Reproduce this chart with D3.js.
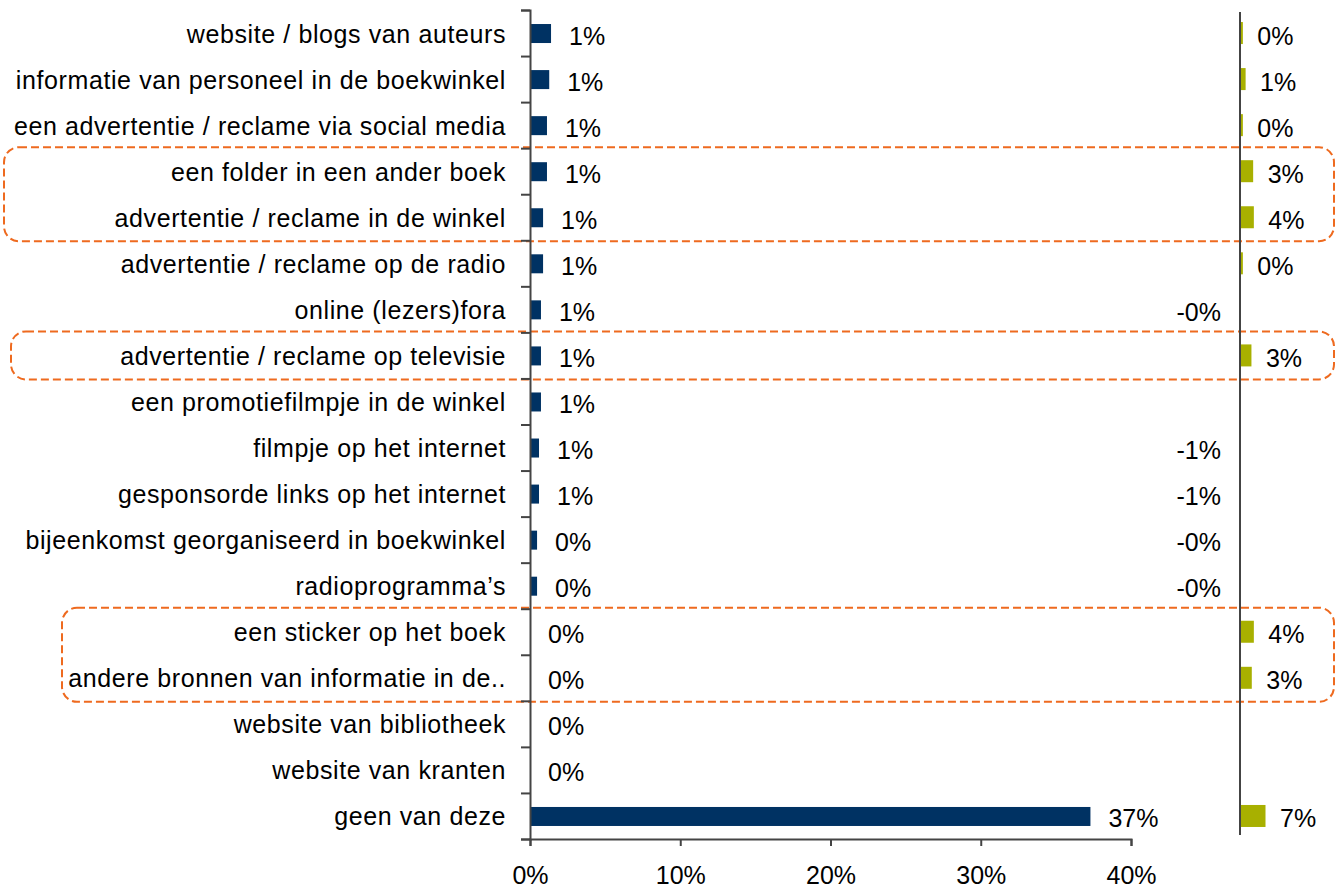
<!DOCTYPE html>
<html>
<head>
<meta charset="utf-8">
<script src="https://cdn.jsdelivr.net/npm/d3@7"></script>
<style>
  body { margin: 0; background: #fff; }
  text { font-family: "Liberation Sans", Arial, sans-serif; fill: #000; }
</style>
</head>
<body>
<script>
var w = 1336;
var h = 888;

// categories top to bottom
var categories = [
  "website / blogs van auteurs",
  "informatie van personeel in de boekwinkel",
  "een advertentie / reclame via social media",
  "een folder in een ander boek",
  "advertentie / reclame in de winkel",
  "advertentie / reclame op de radio",
  "online (lezers)fora",
  "advertentie / reclame op televisie",
  "een promotiefilmpje in de winkel",
  "filmpje op het internet",
  "gesponsorde links op het internet",
  "bijeenkomst georganiseerd in boekwinkel",
  "radioprogramma\u2019s",
  "een sticker op het boek",
  "andere bronnen van informatie in de..",
  "website van bibliotheek",
  "website van kranten",
  "geen van deze"
];

// blue series (percent)
var blueValues = [1.4, 1.28, 1.13, 1.13, 0.87, 0.87, 0.73, 0.73, 0.73, 0.6, 0.6, 0.47, 0.47, 0, 0, 0, 0, 37.3];

// green series (percent), null = no value
var greenValues = [0.4, 1.2, 0.4, 3.4, 3.6, 0.4, -0.3, 2.9, null, -0.8, -0.7, -0.2, -0.2, 3.6, 3.0, null, null, 7.0];

var xTicks = [0, 10, 20, 30, 40];

// highlighted groups (row indexes)
var highlights = [
  {rows: [3, 4], left: 4},
  {rows: [7, 7], left: 11},
  {rows: [13, 14], left: 62}
];

var blue = "#003263";
var green = "#a8b000";
var axisColor = "#444";
var boxColor = "#ee6a1f";

var svg = d3.select("body").append("svg")
  .attr("width", w)
  .attr("height", h);

var y = d3.scaleBand()
  .domain(categories)
  .range([10, 839]);

var x = d3.scaleLinear()
  .domain([0, 40])
  .range([530, 1131]);

var xGreen = d3.scaleLinear()
  .domain([0, 7])
  .range([1240, 1264])
  .clamp(true);

function fmt(v) {
  return (v < 0 ? "-" : "") + Math.round(Math.abs(v)) + "%";
}

// dashed highlight boxes
svg.selectAll(".box")
  .data(highlights)
  .enter()
  .append("rect")
  .attr("x", function(d) { return d.left; })
  .attr("y", function(d) { return y(categories[d.rows[0]]) - 1; })
  .attr("width", function(d) { return 1334 - d.left; })
  .attr("height", function(d) {
    return y(categories[d.rows[1]]) + y.step() - y(categories[d.rows[0]]) + 2;
  })
  .attr("rx", 15)
  .attr("ry", 15)
  .attr("fill", "none")
  .attr("stroke", boxColor)
  .attr("stroke-width", 2)
  .attr("stroke-dasharray", "8,4");

// blue bars
var bh = 19;
svg.selectAll(".bar.blue")
  .data(blueValues)
  .enter()
  .append("rect")
  .attr("x", x(0))
  .attr("y", function(d, i) { return y(categories[i]) + y.step() / 2 - bh / 2 + 0.5; })
  .attr("width", function(d) { return x(d) - x(0); })
  .attr("height", bh)
  .attr("fill", blue);

svg.selectAll(".lbl.blue")
  .data(blueValues)
  .enter()
  .append("text")
  .attr("x", function(d) { return x(d) + 18; })
  .attr("y", function(d, i) { return y(categories[i]) + y.step() / 2 + 11.5; })
  .attr("font-size", 25)
  .text(function(d) { return fmt(d); });

// green bars
var gh = 22;
var greenData = greenValues.map(function(v, i) { return {v: v, i: i}; })
  .filter(function(d) { return d.v !== null; });

svg.selectAll(".bar.green")
  .data(greenData.filter(function(d) { return d.v > 0; }))
  .enter()
  .append("rect")
  .attr("x", xGreen(0))
  .attr("y", function(d) { return y(categories[d.i]) + y.step() / 2 - gh / 2; })
  .attr("width", function(d) { return xGreen(d.v) - xGreen(0) + 1.5; })
  .attr("height", gh)
  .attr("fill", green);

svg.selectAll(".lbl.green")
  .data(greenData)
  .enter()
  .append("text")
  .attr("x", function(d) { return d.v < 0 ? xGreen(0) - 19 : xGreen(d.v) + 16; })
  .attr("y", function(d) { return y(categories[d.i]) + y.step() / 2 + 11.5; })
  .attr("text-anchor", function(d) { return d.v < 0 ? "end" : "start"; })
  .attr("font-size", 25)
  .text(function(d) { return fmt(d.v); });

// category labels
svg.selectAll(".cat")
  .data(categories)
  .enter()
  .append("text")
  .attr("x", 506)
  .attr("y", function(d) { return y(d) + y.step() / 2 + 9.5; })
  .attr("text-anchor", "end")
  .attr("font-size", 25)
  .attr("letter-spacing", 0.6)
  .text(function(d) { return d; });

// left axis with ticks at band boundaries
var yEdges = d3.scaleLinear().domain([0, categories.length]).range([10, 839]);
var yAxis = svg.append("g")
  .attr("transform", "translate(530,0)")
  .call(d3.axisLeft(yEdges)
    .tickValues(d3.range(categories.length + 1))
    .tickSize(9)
    .tickFormat(""));
yAxis.selectAll("path, line").attr("stroke", axisColor).attr("stroke-width", 2);

// bottom axis
var xAxis = svg.append("g")
  .attr("transform", "translate(0,839)")
  .call(d3.axisBottom(x)
    .tickValues(xTicks)
    .tickSize(7)
    .tickPadding(20)
    .tickFormat(function(d) { return d + "%"; }));
xAxis.selectAll("path, line").attr("stroke", axisColor).attr("stroke-width", 2);
xAxis.selectAll("text")
  .attr("font-size", 25)
  .attr("font-family", "Liberation Sans, Arial, sans-serif")
  .attr("fill", "#000");

// second series axis line
svg.append("line")
  .attr("x1", xGreen(0))
  .attr("x2", xGreen(0))
  .attr("y1", 12)
  .attr("y2", 835)
  .attr("stroke", axisColor)
  .attr("stroke-width", 2);
</script>
</body>
</html>
